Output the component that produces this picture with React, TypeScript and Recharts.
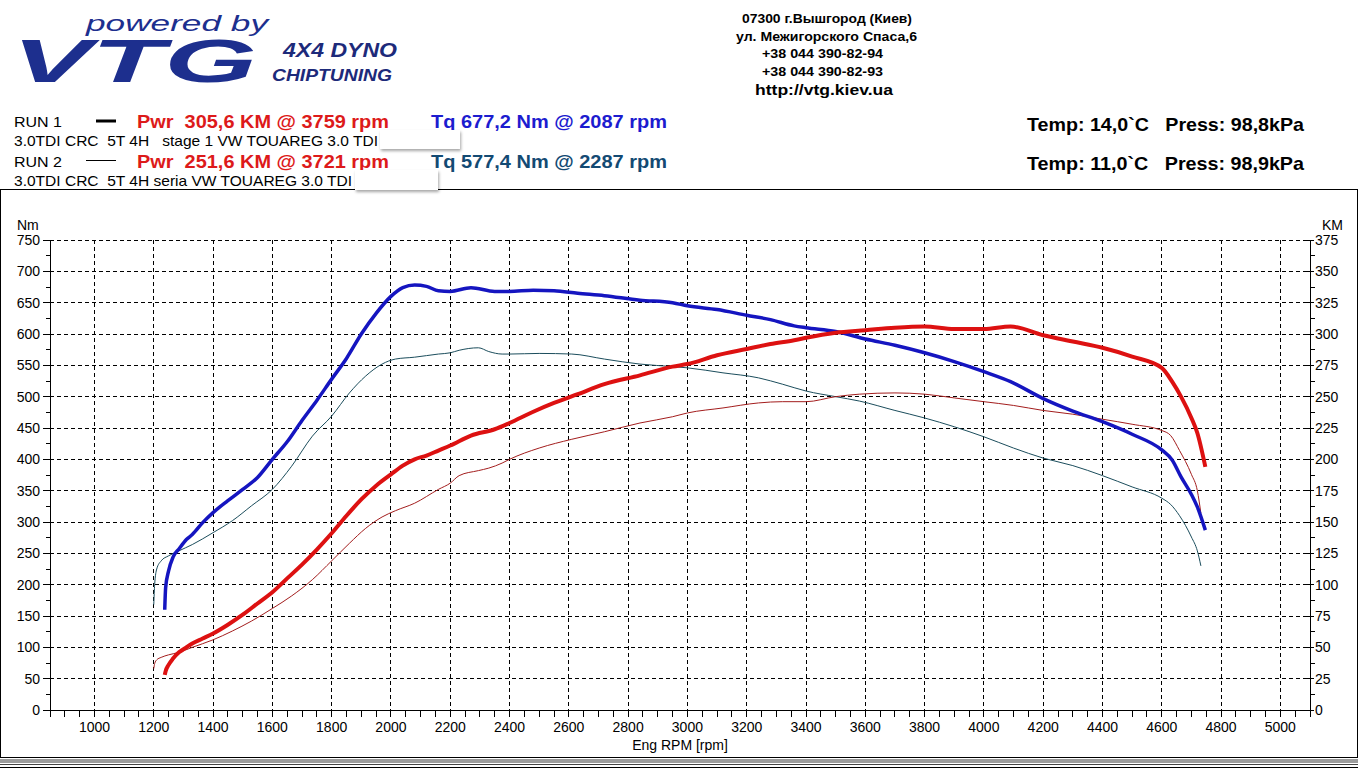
import React from "react";
import { CartesianGrid, Line, LineChart, XAxis, YAxis } from "recharts";

// run 1 (stage 1) — rpm, torque [Nm], power [KM]
const run1Rpm = [
  1237, 1240, 1250, 1265, 1285, 1310, 1330, 1365, 1400, 1450,
  1500, 1550, 1600, 1650, 1700, 1750, 1800, 1850, 1900, 1950,
  2000, 2040, 2080, 2120, 2160, 2200, 2270, 2350, 2400, 2480,
  2550, 2630, 2720, 2840, 2950, 3000, 3100, 3200, 3280, 3360,
  3400, 3500, 3600, 3700, 3800, 3900, 4000, 4090, 4200, 4300,
  4400, 4500, 4600, 4635, 4665, 4700, 4720, 4747,
];
const run1Torque = [
  160, 195, 222, 244, 257, 272, 280, 299, 315, 334,
  352, 371, 400, 428, 462, 494, 528, 561, 600, 633,
  660, 674, 678, 676, 669, 668, 674, 668, 668, 670,
  669, 665, 661, 654, 650, 645, 639, 630, 623, 613,
  610, 604, 592, 582, 570, 556, 540, 524, 497, 477,
  460, 440, 415, 399, 372, 344, 324, 287,
];
const run1Power = [
  28, 31, 36, 41, 46, 50, 53, 57, 61, 68,
  76, 85, 94, 105, 116, 128, 141, 155, 168, 179,
  188, 195, 200, 203, 207, 211, 219, 224, 229, 238,
  245, 252, 260, 267, 274, 276, 283, 288, 292, 295,
  297, 301, 303, 305, 306, 304, 304, 306, 299, 294,
  289, 282, 273, 262, 250, 233, 221, 194,
];

// run 2 (seria)
const run2Rpm = [
  1200, 1203, 1210, 1225, 1250, 1285, 1330, 1400, 1465, 1530,
  1600, 1665, 1735, 1800, 1860, 1915, 1970, 2015, 2080, 2160,
  2200, 2230, 2295, 2330, 2375, 2400, 2500, 2610, 2720, 2840,
  2950, 3000, 3120, 3240, 3320, 3400, 3500, 3580, 3700, 3800,
  3900, 4000, 4100, 4200, 4300, 4400, 4500, 4600, 4630, 4660,
  4700, 4720, 4732,
];
const run2Torque = [
  168, 200, 225, 238, 246, 254, 264, 283, 302, 326,
  352, 389, 437, 469, 506, 533, 552, 560, 563, 568,
  570, 574, 578, 572, 568, 568, 569, 568, 560, 552,
  548, 546, 538, 530, 520, 509, 500, 493, 478, 466,
  452, 436, 418, 402, 390, 374, 356, 338, 328, 310,
  276, 254, 230,
];
const run2Power = [
  33, 37, 40, 42, 44, 46, 50, 56, 63, 71,
  81, 91, 104, 119, 133, 145, 154, 159, 165, 176,
  181, 187, 191, 193, 197, 200, 209, 216, 222, 229,
  234, 237, 241, 245, 246, 246, 250, 252, 253, 252,
  249, 246, 243, 239, 236, 232, 228, 223, 219, 207,
  188, 175, 157,
];

const rpmLabels = [1000, 1200, 1400, 1600, 1800, 2000, 2200, 2400, 2600, 2800, 3000, 3200, 3400, 3600, 3800, 4000, 4200, 4400, 4600, 4800, 5000];
const nmLabels = [0, 50, 100, 150, 200, 250, 300, 350, 400, 450, 500, 550, 600, 650, 700, 750];
const kmLabels = [0, 25, 50, 75, 100, 125, 150, 175, 200, 225, 250, 275, 300, 325, 350, 375];

const steps = (from: number, to: number, step: number) => {
  const out: number[] = [];
  for (let v = from; v <= to + 1e-9; v += step) out.push(v);
  return out;
};
const rpmTicks = steps(850, 5100, 50);
const nmTicks = steps(0, 750, 25);
const kmTicks = steps(0, 375, 12.5);

const run1 = run1Rpm.map((rpm, i) => ({ rpm, tq: run1Torque[i], pwr: run1Power[i] }));
const run2 = run2Rpm.map((rpm, i) => ({ rpm, tq: run2Torque[i], pwr: run2Power[i] }));

const FONT = "'Liberation Sans', Arial, sans-serif";
const tickFont = { fontFamily: FONT, fontSize: 14, fill: "#000" };

const XTick = (p: any) => {
  const v = p.payload.value;
  const ay = p.y - 12;
  return (
    <g>
      <line x1={p.x} x2={p.x} y1={ay} y2={ay + 7} stroke="#000" shapeRendering="crispEdges" />
      {rpmLabels.includes(v) && (
        <text x={p.x} y={p.y + 10} textAnchor="middle" {...tickFont}>{v}</text>
      )}
    </g>
  );
};

const LeftTick = (p: any) => {
  const v = p.payload.value;
  const ax = p.x + 10;
  const major = nmLabels.includes(v);
  return (
    <g>
      <line x1={ax - (major ? 7 : 4)} x2={ax} y1={p.y} y2={p.y} stroke="#000" shapeRendering="crispEdges" />
      {major && (
        <text x={p.x} y={p.y + 5} textAnchor="end" {...tickFont}>{v}</text>
      )}
    </g>
  );
};

const RightTick = (p: any) => {
  const v = p.payload.value;
  const ax = p.x - 4;
  const major = kmLabels.includes(v);
  return (
    <g>
      <line x1={major ? ax - 4 : ax} x2={ax + (major ? 4 : 5)} y1={p.y} y2={p.y} stroke="#000" shapeRendering="crispEdges" />
      {major && (
        <text x={p.x + 1} y={p.y + 5} textAnchor="start" {...tickFont}>{v}</text>
      )}
    </g>
  );
};

type TxtProps = {
  x: number;
  y: number;
  w?: number;
  size: number;
  fill?: string;
  bold?: boolean;
  italic?: boolean;
  anchor?: "start" | "middle" | "end";
  children: React.ReactNode;
};

function Txt({ x, y, w, size, fill = "#000", bold, italic, anchor = "start", children }: TxtProps) {
  return (
    <text
      x={x}
      y={y}
      fontFamily={FONT}
      fontSize={size}
      fontWeight={bold ? 700 : 400}
      fontStyle={italic ? "italic" : "normal"}
      fill={fill}
      textAnchor={anchor}
      textLength={w}
      lengthAdjust={w ? "spacingAndGlyphs" : undefined}
      style={{ whiteSpace: "pre" }}
    >
      {children}
    </text>
  );
}

function Header() {
  const logo = "#1d2f8e";
  return (
    <svg width={1360} height={768} style={{ position: "absolute", left: 0, top: 0, pointerEvents: "none" }}>
      {/* logo */}
      <Txt x={86} y={31} w={182} size={22} italic fill={logo}>powered by</Txt>
      <Txt x={12} y={82} w={245} size={62} bold italic fill={logo}>VTG</Txt>
      <Txt x={283} y={57} w={114} size={20} bold italic fill="#1d2a7a">4X4 DYNO</Txt>
      <Txt x={272} y={81} w={120} size={17} bold italic fill="#1d2a7a">CHIPTUNING</Txt>

      {/* address */}
      <Txt x={742} y={23} w={170} size={13} bold>07300 г.Вышгород (Киев)</Txt>
      <Txt x={736} y={41} w={181} size={13} bold>ул. Межигорского Спаса,6</Txt>
      <Txt x={762} y={58} w={121} size={13} bold>+38 044 390-82-94</Txt>
      <Txt x={762} y={76} w={121} size={13} bold>+38 044 390-82-93</Txt>
      <Txt x={755} y={95} w={138} size={15} bold>http://vtg.kiev.ua</Txt>

      <defs>
        <filter id="boxShadow" x="-10%" y="-20%" width="130%" height="160%">
          <feDropShadow dx="1" dy="2" stdDeviation="1.5" floodColor="#000" floodOpacity="0.35" />
        </filter>
      </defs>

      {/* run 1 */}
      <Txt x={14} y={127} w={48} size={15}>RUN 1</Txt>
      <line x1={96} x2={116} y1={121} y2={121} stroke="#000" strokeWidth={3} />
      <Txt x={137} y={128} w={252} size={18} bold fill="#dd1a1a">{"Pwr  305,6 KM @ 3759 rpm"}</Txt>
      <Txt x={431} y={128} w={236} size={18} bold fill="#1c1ccf">Tq 677,2 Nm @ 2087 rpm</Txt>
      <Txt x={14} y={146} w={364} size={15}>{"3.0TDI CRC  5T 4H   stage 1 VW TOUAREG 3.0 TDI"}</Txt>
      <rect x={380} y={130} width={80} height={19} fill="#fff" filter="url(#boxShadow)" />
      <Txt x={1027} y={131} w={277} size={19} bold>{"Temp: 14,0`C   Press: 98,8kPa"}</Txt>

      {/* run 2 */}
      <Txt x={14} y={167} w={48} size={15}>RUN 2</Txt>
      <line x1={86} x2={116} y1={160.5} y2={160.5} stroke="#000" strokeWidth={1} />
      <Txt x={137} y={168} w={252} size={18} bold fill="#dd1a1a">{"Pwr  251,6 KM @ 3721 rpm"}</Txt>
      <Txt x={431} y={168} w={236} size={18} bold fill="#134a73">Tq 577,4 Nm @ 2287 rpm</Txt>
      <Txt x={14} y={186} w={338} size={15}>3.0TDI CRC  5T 4H seria VW TOUAREG 3.0 TDI</Txt>
      <rect x={355} y={170} width={83} height={20} fill="#fff" filter="url(#boxShadow)" />
      <Txt x={1027} y={170} w={277} size={19} bold>{"Temp: 11,0`C   Press: 98,9kPa"}</Txt>

      {/* axis titles */}
      <Txt x={17} y={230} size={14}>Nm</Txt>
      <Txt x={1322} y={230} size={14}>KM</Txt>
      <Txt x={680} y={750} size={14} anchor="middle">Eng RPM [rpm]</Txt>

      {/* bottom bars */}
      <rect x={0} y={759} width={1358} height={4} fill="#9c9c9c" />
      <line x1={0} x2={1358} y1={764.5} y2={764.5} stroke="#444" />
      <line x1={0} x2={1358} y1={767.5} y2={767.5} stroke="#000" />
    </svg>
  );
}

export default function App() {
  return (
    <div style={{ position: "absolute", left: 0, top: 0, width: 1360, height: 768, background: "#fff", overflow: "hidden" }}>
      <div
        style={{
          position: "absolute",
          left: 0,
          top: 189,
          width: 1358,
          height: 569,
          border: "1px solid #000",
          boxSizing: "border-box",
        }}
      />
      <div style={{ position: "absolute", left: 0, top: 189 }}>
        <LineChart width={1358} height={568} margin={{ top: 51, right: 0, bottom: 0, left: 0 }}>
          <CartesianGrid
            stroke="#000"
            strokeDasharray="4 3"
            shapeRendering="crispEdges"
            horizontalValues={nmLabels}
            verticalValues={rpmLabels}
          />
          <XAxis
            dataKey="rpm"
            type="number"
            domain={[850, 5100]}
            ticks={rpmTicks}
            interval={0}
            height={47}
            tickSize={7}
            tickMargin={5}
            tickLine={false}
            axisLine={{ stroke: "#000", shapeRendering: "crispEdges" }}
            tick={(p: any) => <XTick {...p} />}
          />
          <YAxis
            type="number"
            domain={[0, 750]}
            ticks={nmTicks}
            interval={0}
            width={50}
            tickSize={7}
            tickMargin={3}
            tickLine={false}
            axisLine={{ stroke: "#000", shapeRendering: "crispEdges" }}
            tick={(p: any) => <LeftTick {...p} />}
          />
          <YAxis
            yAxisId="km"
            orientation="right"
            type="number"
            domain={[0, 375]}
            ticks={kmTicks}
            interval={0}
            width={48}
            tickSize={3}
            tickMargin={1}
            tickLine={false}
            axisLine={{ stroke: "#000", shapeRendering: "crispEdges" }}
            tick={(p: any) => <RightTick {...p} />}
          />
          <Line data={run2} dataKey="tq" type="monotone" stroke="#1b4d5c" strokeWidth={1} dot={false} isAnimationActive={false} />
          <Line data={run2} dataKey="pwr" yAxisId="km" type="monotone" stroke="#a31d1d" strokeWidth={1} dot={false} isAnimationActive={false} />
          <Line data={run1} dataKey="tq" type="monotone" stroke="#1515c0" strokeWidth={3.5} dot={false} isAnimationActive={false} />
          <Line data={run1} dataKey="pwr" yAxisId="km" type="monotone" stroke="#dd1111" strokeWidth={4} dot={false} isAnimationActive={false} />
        </LineChart>
      </div>
      <Header />
    </div>
  );
}
